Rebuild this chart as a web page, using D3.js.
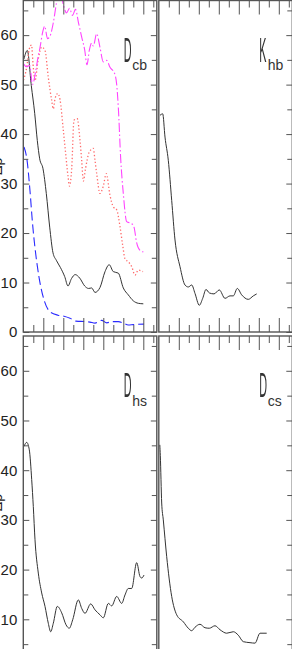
<!DOCTYPE html>
<html>
<head>
<meta charset="utf-8">
<script src="https://cdn.jsdelivr.net/npm/d3@7"></script>
<style>
body { margin: 0; background: #fff; overflow: hidden; }
svg { display: block; }
text { font-family: "Liberation Sans Narrow", "Liberation Sans", sans-serif; fill: #222; }
</style>
</head>
<body>
<svg id="chart" width="292" height="649"></svg>
<script>
// x in panel units (one minor tick = 1), y values

// D_cb panel (top left)
const cbBlackX = [0.07, 0.40, 0.80, 1.14, 1.40, 1.64, 1.97, 2.30, 2.64, 2.97, 3.30, 3.72, 4.14, 4.47, 4.82, 5.19, 5.64, 6.14, 6.52, 6.84, 7.17, 7.67, 8.17, 8.59, 9.00, 9.50, 10.00, 10.50, 11.00, 11.50, 12.00];
const cbBlackY = [55.2, 56.9, 49.8, 44.2, 38.7, 35.0, 33.0, 28.0, 21.2, 16.0, 14.5, 13.0, 11.2, 9.3, 10.8, 11.6, 10.9, 9.3, 8.8, 8.9, 8.0, 9.0, 12.2, 13.6, 12.2, 11.9, 8.9, 7.5, 6.3, 5.8, 5.7];

const cbBlueX = [0.07, 0.37, 0.67, 0.92, 1.17, 1.57, 2.07, 2.67, 3.47, 4.07, 4.67, 5.27, 6.17, 6.67, 7.17, 7.84, 8.34, 8.87, 9.50, 10.00, 10.50, 11.00, 12.07];
const cbBlueY = [37.4, 34.8, 28.5, 22.0, 17.0, 11.1, 6.5, 4.1, 3.4, 3.2, 2.8, 2.2, 2.1, 2.0, 1.8, 2.35, 1.85, 2.1, 2.1, 1.8, 1.4, 1.5, 1.6];

const cbRedX = [0.02, 0.34, 0.60, 0.82, 1.00, 1.17, 1.50, 1.84, 2.17, 2.50, 2.84, 3.00, 3.17, 3.44, 3.67, 4.00, 4.24, 4.47, 4.62, 4.84, 5.07, 5.40, 5.67, 5.84, 6.00, 6.22, 6.60, 7.00, 7.17, 7.34, 7.67, 8.00, 8.30, 8.67, 9.00, 9.34, 9.67, 9.94, 10.17, 10.50, 10.84, 11.17, 11.50, 11.97];
const cbRedY = [50.9, 53.5, 57.2, 58.0, 53.5, 50.8, 55.2, 57.6, 56.9, 51.5, 46.8, 45.1, 47.1, 48.2, 47.0, 40.8, 36.0, 31.5, 29.5, 33.0, 42.8, 43.1, 38.7, 34.7, 30.5, 33.0, 36.4, 37.1, 34.7, 32.0, 28.0, 29.5, 32.0, 27.6, 25.3, 24.7, 21.3, 17.5, 14.8, 14.2, 13.2, 11.5, 12.5, 12.2];

const cbMagentaX = [0.02, 0.34, 0.64, 0.92, 1.22, 1.47, 1.67, 1.97, 2.14, 2.42, 2.67, 3.00, 3.32, 3.67, 4.02, 4.32, 4.62, 4.92, 5.22, 5.52, 5.84, 6.14, 6.37, 6.60, 6.84, 7.00, 7.34, 7.67, 8.00, 8.34, 8.67, 9.12, 9.34, 9.50, 9.74, 10.00, 10.34, 10.84, 11.07, 11.34, 11.67, 12.00];
const cbMagentaY = [54.2, 53.6, 53.9, 50.0, 52.5, 55.5, 57.5, 60.9, 61.8, 59.3, 59.8, 62.5, 66.5, 69.0, 66.0, 64.5, 65.4, 64.0, 65.2, 62.5, 59.6, 57.0, 54.0, 56.9, 58.4, 57.8, 60.3, 57.5, 54.6, 54.9, 53.5, 52.3, 50.0, 45.5, 35.0, 28.0, 22.3, 21.9, 21.2, 18.0, 16.5, 16.2];

// K_hb panel (top right)
const hbX = [0.12, 0.39, 0.62, 0.95, 1.29, 1.62, 2.12, 2.62, 2.95, 3.29, 3.62, 4.05, 4.39, 4.72, 5.05, 5.52, 6.05, 6.62, 7.12, 7.45, 7.85, 8.29, 8.95, 9.45, 9.79];
const hbY = [43.8, 44.1, 39.4, 34.7, 26.6, 18.6, 13.2, 9.5, 9.1, 9.5, 7.8, 5.4, 6.8, 8.6, 7.9, 7.7, 8.5, 6.8, 7.3, 7.3, 8.8, 7.5, 6.6, 7.3, 7.7];

// D_hs panel (bottom left)
const hsX = [0.07, 0.34, 0.60, 0.84, 1.00, 1.17, 1.50, 1.84, 2.17, 2.50, 2.74, 3.00, 3.40, 3.84, 4.27, 4.60, 4.94, 5.50, 5.84, 6.17, 6.74, 7.17, 7.67, 8.00, 8.50, 8.84, 9.34, 9.84, 10.17, 10.50, 10.84, 11.34, 11.67, 11.84, 12.07];
const hsY = [44.8, 45.6, 44.1, 38.1, 32.7, 26.0, 19.3, 15.3, 12.6, 9.2, 7.5, 9.2, 12.6, 11.3, 8.9, 8.2, 9.9, 13.9, 12.2, 11.2, 13.1, 11.9, 10.9, 10.3, 13.2, 12.7, 14.6, 13.2, 14.9, 16.2, 16.2, 21.4, 18.6, 18.3, 18.9];

// D_cs panel (bottom right)
const csX = [0.10, 0.15, 0.29, 0.45, 0.79, 1.29, 1.79, 2.45, 2.95, 3.29, 3.62, 4.12, 4.62, 5.05, 5.62, 6.12, 6.79, 7.45, 7.95, 8.45, 9.12, 9.62, 10.12, 10.79];
const csY = [45.1, 43.0, 33.4, 30.0, 22.6, 14.6, 10.9, 9.5, 8.2, 7.7, 8.4, 9.0, 8.3, 8.2, 8.7, 7.9, 7.2, 7.5, 6.8, 5.5, 5.3, 5.2, 7.2, 7.2];

const yMajorTicks = [0, 10, 20, 30, 40, 50, 60];
const yMinorTicks = [5, 15, 25, 35, 45, 55, 65];
const xMajorTicks = [2, 4, 6, 8, 10, 12];
const xMinorTicks = [1, 3, 5, 7, 9, 11, 13];

const solid = { color: "#333", width: 1, dash: null };
const blueDash = { color: "#2a2aff", width: 1.1, dash: "9,4" };
const redDot = { color: "#ff6a6a", width: 1.3, dash: "1.3,2.2" };
const magDashDot = { color: "#ff44ff", width: 1.1, dash: "9,2.5,1.5,2.5" };

const panels = [
  { col: 0, row: 0, main: "D", sub: "cb", series: [
      { x: cbBlackX, y: cbBlackY, st: solid },
      { x: cbRedX, y: cbRedY, st: redDot },
      { x: cbMagentaX, y: cbMagentaY, st: magDashDot },
      { x: cbBlueX, y: cbBlueY, st: blueDash } ] },
  { col: 1, row: 0, main: "K", sub: "hb", series: [ { x: hbX, y: hbY, st: solid } ] },
  { col: 0, row: 1, main: "D", sub: "hs", series: [ { x: hsX, y: hsY, st: solid } ] },
  { col: 1, row: 1, main: "D", sub: "cs", series: [ { x: csX, y: csY, st: solid } ] }
];

const colLeft = [23.3, 158.8], panelW = 133.5;
const rowTop = [0.5, 336], rowBottom = [332, 669];
const xMax = 13.35, yMax = 67;
const axisColor = "#555";
const pageH = 649;

const svg = d3.select("#chart");
const defs = svg.append("defs");

// a do-nothing filter so the squeezed capitals get plain greyscale smoothing
defs.append("filter").attr("id", "flat")
  .append("feOffset").attr("dx", 0).attr("dy", 0);

// y axis titles, cut off at the left edge as in the original crop
rowTop.forEach((t, r) => {
  svg.append("text")
    .attr("transform", `translate(1.5,${(t + rowBottom[r]) / 2}) rotate(-90)`)
    .attr("text-anchor", "middle")
    .attr("font-size", 14)
    .text("Δρ");
});

panels.forEach((p, i) => {
  let x = d3.scaleLinear().domain([0, xMax]).range([colLeft[p.col], colLeft[p.col] + panelW]);
  let y = d3.scaleLinear().domain([0, yMax]).range([rowBottom[p.row], rowTop[p.row]]);
  let g = svg.append("g");

  defs.append("clipPath").attr("id", "clip" + i)
    .append("rect")
    .attr("x", x(0)).attr("y", y(yMax))
    .attr("width", panelW).attr("height", y(0) - y(yMax));

  let line = d3.line()
    .x(d => x(d[0]))
    .y(d => y(d[1]))
    .curve(d3.curveMonotoneX);

  p.series.forEach(s => {
    g.append("path")
      .datum(d3.zip(s.x, s.y))
      .attr("clip-path", `url(#clip${i})`)
      .attr("d", line)
      .attr("fill", "none")
      .attr("stroke", s.st.color)
      .attr("stroke-width", s.st.width)
      .attr("stroke-dasharray", s.st.dash);
  });

  // ticks, all pointing inwards
  let addAxis = (axis, tx, ty) => {
    let a = g.append("g").attr("transform", `translate(${tx},${ty})`).call(axis);
    a.select(".domain").remove();
    a.selectAll("line").attr("stroke", axisColor);
    return a;
  };
  addAxis(d3.axisBottom(x).tickValues(xMajorTicks).tickSize(-14).tickFormat(""), 0, y(0));
  addAxis(d3.axisBottom(x).tickValues(xMinorTicks).tickSize(-7).tickFormat(""), 0, y(0));
  addAxis(d3.axisTop(x).tickValues(xMajorTicks).tickSize(-14).tickFormat(""), 0, y(yMax));
  addAxis(d3.axisTop(x).tickValues(xMinorTicks).tickSize(-7).tickFormat(""), 0, y(yMax));
  addAxis(d3.axisRight(y).tickValues(yMajorTicks).tickSize(-6).tickFormat(""), x(xMax), 0);
  addAxis(d3.axisRight(y).tickValues(yMinorTicks).tickSize(-5).tickFormat(""), x(xMax), 0);

  if (p.col === 0) {
    // labels only where they fall inside the page
    let shown = yMajorTicks.filter(v => y(v) < pageH - 6);
    let left = addAxis(d3.axisLeft(y).tickValues(shown).tickSize(-6).tickPadding(6), x(0), 0);
    left.selectAll("text")
      .attr("font-size", 15)
      .attr("font-family", "Liberation Sans Narrow, Liberation Sans, sans-serif")
      .attr("fill", "#222");
    addAxis(d3.axisLeft(y).tickValues(yMinorTicks).tickSize(-5).tickFormat(""), x(0), 0);
  }

  // frame
  g.append("rect")
    .attr("x", x(0)).attr("y", y(yMax))
    .attr("width", panelW).attr("height", y(0) - y(yMax))
    .attr("fill", "none")
    .attr("stroke", axisColor)
    .attr("stroke-width", 1.4);

  // panel label: tall condensed capital with a subscript
  let lx = x(0) + 100.5, ly = rowTop[p.row];
  g.append("g").attr("filter", "url(#flat)")
    .append("text")
    .attr("transform", `translate(${lx},${ly + 61}) scale(0.3,1)`)
    .attr("font-family", "Liberation Serif, serif")
    .attr("font-size", 36)
    .style("fill", "#333")
    .text(p.main);
  g.append("text")
    .attr("x", lx + 8.5).attr("y", ly + 69.5)
    .attr("font-size", 14)
    .style("fill", "#333")
    .text(p.sub);
});
</script>
</body>
</html>
